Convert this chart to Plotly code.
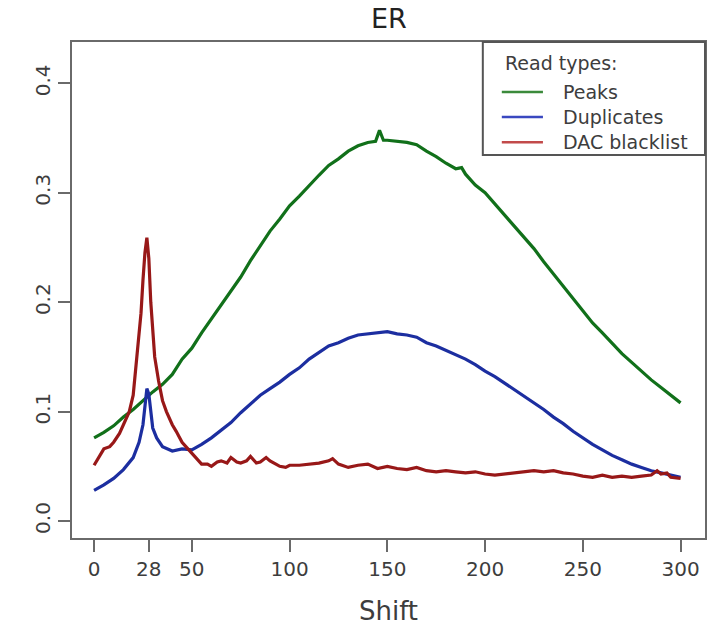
import plotly.graph_objects as go

# ---- data ----
peaks_x = [0, 5, 10, 15, 20, 25, 30, 35, 40, 45, 50, 55, 60, 65, 70, 75, 80, 85, 90, 95,
           100, 105, 110, 115, 120, 125, 130, 135, 140, 144, 146, 148, 150, 155, 160, 165, 170,
           175, 180, 185, 188, 190, 195, 200, 205, 210, 215, 220, 225, 230, 235, 240, 245,
           250, 255, 260, 265, 270, 275, 280, 285, 290, 295, 300]
peaks_y = [0.076, 0.081, 0.087, 0.095, 0.102, 0.110, 0.118, 0.125, 0.134, 0.148, 0.158, 0.172,
           0.185, 0.197, 0.210, 0.223, 0.238, 0.251, 0.265, 0.276, 0.288, 0.297, 0.307, 0.316,
           0.325, 0.331, 0.338, 0.343, 0.346, 0.347, 0.357, 0.348, 0.348, 0.347, 0.346, 0.344,
           0.338, 0.333, 0.327, 0.322, 0.323, 0.317, 0.307, 0.300, 0.290, 0.280, 0.270, 0.260,
           0.249, 0.237, 0.226, 0.214, 0.203, 0.192, 0.181, 0.172, 0.162, 0.153, 0.145, 0.137,
           0.129, 0.122, 0.115, 0.108]

dup_x = [0, 5, 10, 15, 20, 23, 25, 26, 27, 28, 29, 30, 32, 35, 40, 45, 50, 55, 60, 65, 70,
         75, 80, 85, 90, 95, 100, 105, 110, 115, 120, 125, 130, 135, 140, 145, 150, 155,
         160, 165, 170, 175, 180, 185, 190, 195, 200, 205, 210, 215, 220, 225, 230, 235,
         240, 245, 250, 255, 260, 265, 270, 275, 280, 285, 290, 295, 300]
dup_y = [0.028, 0.033, 0.039, 0.047, 0.058, 0.072, 0.088, 0.102, 0.121, 0.116, 0.098, 0.085,
         0.076, 0.068, 0.064, 0.066, 0.065, 0.070, 0.076, 0.083, 0.090, 0.099, 0.107, 0.115,
         0.121, 0.127, 0.134, 0.140, 0.148, 0.154, 0.160, 0.163, 0.167, 0.170, 0.171, 0.172,
         0.173, 0.171, 0.170, 0.168, 0.163, 0.160, 0.156, 0.152, 0.148, 0.143, 0.137, 0.132,
         0.126, 0.120, 0.114, 0.108, 0.102, 0.095, 0.089, 0.082, 0.076, 0.070, 0.065, 0.060,
         0.056, 0.052, 0.049, 0.046, 0.044, 0.042, 0.040]

dac_x = [0, 3, 5, 8, 10, 13, 15, 18, 20, 22, 24, 25, 26, 27, 28, 29, 30, 31, 33, 35, 37,
         40, 42, 45, 48, 50, 53, 55, 58, 60, 63, 65, 68, 70, 73, 75, 78, 80, 83, 85, 88,
         90, 93, 95, 98, 100, 105, 110, 115, 120, 122, 125, 130, 135, 140, 145, 150, 155,
         160, 165, 170, 175, 180, 185, 190, 195, 200, 205, 210, 215, 220, 225, 230, 235,
         240, 245, 250, 255, 260, 265, 270, 275, 280, 285, 288, 290, 293, 295, 300]
dac_y = [0.051, 0.060, 0.066, 0.068, 0.072, 0.080, 0.088, 0.100, 0.115, 0.150, 0.190, 0.220,
         0.245, 0.259, 0.240, 0.200, 0.170, 0.150, 0.128, 0.110, 0.100, 0.088, 0.082, 0.072,
         0.066, 0.062, 0.056, 0.052, 0.052, 0.050, 0.054, 0.055, 0.053, 0.058, 0.054, 0.053,
         0.055, 0.059, 0.053, 0.054, 0.058, 0.055, 0.052, 0.050, 0.049, 0.051, 0.051, 0.052,
         0.053, 0.055, 0.057, 0.052, 0.049, 0.051, 0.052, 0.048, 0.050, 0.048, 0.047, 0.049,
         0.046, 0.045, 0.046, 0.045, 0.044, 0.045, 0.043, 0.042, 0.043, 0.044, 0.045, 0.046,
         0.045, 0.046, 0.044, 0.043, 0.041, 0.040, 0.042, 0.040, 0.041, 0.040, 0.041, 0.042,
         0.046, 0.043, 0.044, 0.040, 0.039]

x_ticks = [0, 28, 50, 100, 150, 200, 250, 300]
y_ticks = [0.0, 0.1, 0.2, 0.3, 0.4]
y_tick_text = ["0.0", "0.1", "0.2", "0.3", "0.4"]

legend_title = "Read types:"
series = [
    ("Peaks", peaks_x, peaks_y, "#11701a", "#3b8a3b"),
    ("Duplicates", dup_x, dup_y, "#1c2ea0", "#3a48c0"),
    ("DAC blacklist", dac_x, dac_y, "#981818", "#c24a4a"),
]

FONT = "DejaVu Sans"
TXT = "#3d3d3d"
AX = "#6a6a6a"

fig = go.Figure()
for name, xs, ys, col, _ in series:
    fig.add_trace(go.Scatter(x=xs, y=ys, mode="lines", name=name, showlegend=False,
                             line=dict(color=col, width=3.2)))

# manual legend box (paper coordinates)
shapes = [dict(type="rect", xref="paper", yref="paper", x0=0.649, x1=1.0, y0=0.772, y1=1.0,
               line=dict(color="#555555", width=2), fillcolor="white", layer="above")]
annotations = [
    dict(text="ER", x=0.5, y=1, xref="paper", yref="paper", xanchor="center",
         yanchor="bottom", yshift=6, showarrow=False,
         font=dict(family=FONT, size=27, color="#222222")),
    dict(text=legend_title, x=0.681, y=0.958, xref="paper", yref="paper", xanchor="left",
         yanchor="middle", showarrow=False, font=dict(family=FONT, size=19, color=TXT)),
]
row_y = [0.899, 0.849, 0.798]
for (name, _, _, _, lcol), ry in zip(series, row_y):
    shapes.append(dict(type="line", xref="paper", yref="paper", x0=0.679, x1=0.744,
                       y0=ry, y1=ry, line=dict(color=lcol, width=2.5), layer="above"))
    annotations.append(dict(text=name, x=0.772, y=ry, xref="paper", yref="paper",
                            xanchor="left", yanchor="middle", showarrow=False,
                            font=dict(family=FONT, size=19, color=TXT)))

fig.update_layout(
    width=716, height=635,
    margin=dict(l=72, r=11, t=42, b=97, autoexpand=False),
    paper_bgcolor="white", plot_bgcolor="white",
    font=dict(family=FONT, color=TXT, size=20),
    showlegend=False,
    shapes=shapes,
    annotations=annotations,
)
fig.update_xaxes(
    range=[-11.3, 312.5], tickmode="array", tickvals=x_ticks, automargin=False,
    ticks="outside", ticklen=12, tickwidth=2, tickcolor=AX,
    showline=True, linecolor=AX, linewidth=2, mirror=True,
    showgrid=False, zeroline=False,
    tickfont=dict(family=FONT, size=20, color=TXT),
    title=dict(text="Shift", font=dict(family=FONT, size=26, color=TXT), standoff=22),
)
fig.update_yaxes(
    range=[-0.0155, 0.4378], tickmode="array", tickvals=y_ticks, ticktext=y_tick_text,
    automargin=False,
    ticks="outside", ticklen=12, tickwidth=2, tickcolor=AX,
    showline=True, linecolor=AX, linewidth=2, mirror=True,
    showgrid=False, zeroline=False, tickangle=-90,
    tickfont=dict(family=FONT, size=20, color=TXT),
)

fig.write_html("out.html", config={"displayModeBar": False},
               post_script="document.body.style.margin='0';")
